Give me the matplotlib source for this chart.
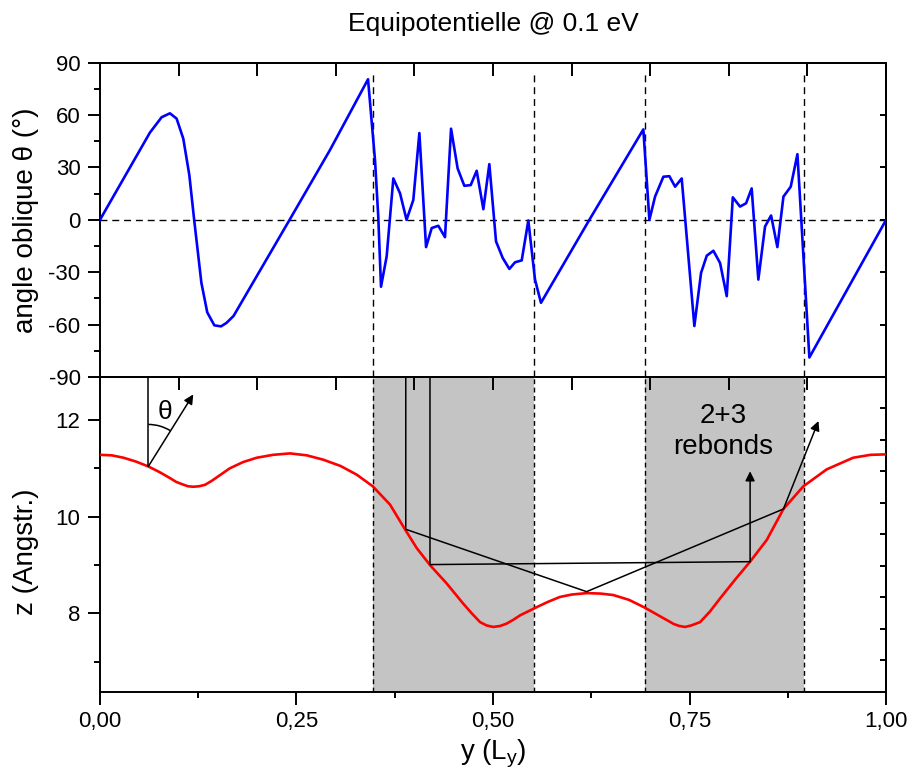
import matplotlib
matplotlib.use("Agg")
import matplotlib.pyplot as plt
from matplotlib.patches import Arc
from matplotlib.ticker import FuncFormatter, MultipleLocator
import numpy as np

plt.rcParams.update({
    'font.family': ['Liberation Sans', 'DejaVu Sans'],
    'mathtext.default': 'regular',
    'axes.unicode_minus': False,
    'font.size': 16,
})

# ---------------- data ----------------
# top panel: oblique angle theta (deg) vs y (L_y)
theta_y = [0.0, 0.0636, 0.0785, 0.089, 0.0975, 0.106, 0.1137, 0.1196, 0.129, 0.1365,
           0.1455, 0.154, 0.161, 0.17, 0.2417, 0.2926, 0.341, 0.3499, 0.354, 0.3575,
           0.3647, 0.3732, 0.3817, 0.390, 0.3986, 0.4063, 0.4148, 0.422, 0.4304, 0.4389,
           0.4466, 0.455, 0.4635, 0.4716, 0.4792, 0.4877, 0.4953, 0.5038, 0.5123, 0.5208,
           0.528, 0.5365, 0.5449, 0.5534, 0.561, 0.6225, 0.6912, 0.6989, 0.7061, 0.7167,
           0.7243, 0.7316, 0.74, 0.7561, 0.7646, 0.7719, 0.7803, 0.7888, 0.7973, 0.805,
           0.8142, 0.8219, 0.829, 0.8375, 0.846, 0.8537, 0.8617, 0.8694, 0.8787, 0.8872,
           0.9024, 1.0]
theta_deg = [0, 50, 58.8, 61, 58, 46.5, 25.6, 1, -36, -53,
             -60.4, -61, -59, -55, 0.4, 40, 80.5, 34, 2, -38.3,
             -20.9, 23.7, 15.2, 0, 11.4, 49.7, -15.6, -4.7, -3.4, -9.9,
             52.2, 29.4, 19.5, 19.9, 28.1, 6.1, 31.9, -12.3, -21.8, -28.1,
             -24.3, -23.2, -0.4, -34.2, -47.5, 0, 51.8, 0, 13.3, 24.7,
             25, 19, 23.7, -60.8, -30.4, -20.5, -17.7, -24.7, -43.7, 12.9,
             7.6, 9.5, 18, -34.2, -3.8, 2.5, -15.6, 13.3, 19, 37.6,
             -78.8, 0]

# bottom panel: equipotential surface z (Angstr.) vs y (L_y)
surf_y = [0.0, 0.015, 0.03, 0.046, 0.0615, 0.075, 0.089, 0.097, 0.105, 0.112,
          0.1187, 0.126, 0.1336, 0.142, 0.150, 0.165, 0.182, 0.1993, 0.22, 0.2417,
          0.263, 0.284, 0.306, 0.3266, 0.347, 0.369, 0.388, 0.403, 0.4198, 0.441,
          0.4622, 0.473, 0.4835, 0.492, 0.5004, 0.509, 0.5174, 0.526, 0.5344, 0.5556,
          0.570, 0.585, 0.600, 0.6192, 0.637, 0.653, 0.673, 0.693, 0.7125, 0.730,
          0.737, 0.7443, 0.752, 0.7634, 0.776, 0.7888, 0.808, 0.827, 0.8482, 0.8694,
          0.8948, 0.9245, 0.958, 0.98, 1.0]
surf_z = [11.28, 11.27, 11.22, 11.14, 11.04, 10.93, 10.80, 10.72, 10.67, 10.63,
          10.62, 10.63, 10.66, 10.74, 10.83, 11.00, 11.13, 11.22, 11.28, 11.31,
          11.27, 11.18, 11.05, 10.87, 10.63, 10.25, 9.74, 9.35, 9.00, 8.62,
          8.20, 8.00, 7.82, 7.75, 7.72, 7.74, 7.79, 7.87, 7.96, 8.13,
          8.24, 8.34, 8.39, 8.42, 8.41, 8.38, 8.28, 8.12, 7.94, 7.78,
          7.74, 7.72, 7.75, 7.82, 8.04, 8.31, 8.70, 9.07, 9.52, 10.16,
          10.63, 10.98, 11.22, 11.28, 11.29]

# rebound regions (y) and trajectories
region_edges = [(0.347, 0.552), (0.693, 0.896)]
traj_a_y = [0.389, 0.389, 0.619, 0.8694]
traj_a_z = [12.89, 9.74, 8.45, 10.16]
traj_a_end = (0.914, 11.98)
traj_b_y = [0.4198, 0.4198, 0.827]
traj_b_z = [12.89, 9.01, 9.07]
traj_b_end = (0.827, 10.94)
incid_pt = (0.0615, 11.04)
incid_end = (0.1187, 12.53)

z_lo, z_hi = 6.38, 12.89

fig = plt.figure(figsize=(9.12, 7.74), dpi=100)
ax1 = fig.add_axes([0.1096, 0.5129, 0.862, 0.4061])
ax2 = fig.add_axes([0.1096, 0.1063, 0.862, 0.4066])

comma = FuncFormatter(lambda v, p: f"{v:.2f}".replace('.', ','))

# ---------------- top panel ----------------
ax1.plot(theta_y, theta_deg, color='#0000ff', lw=1.9, zorder=3)
ax1.axhline(0, color='black', lw=1.0, ls=(0, (5, 3.5)), zorder=2)
for a, b in region_edges:
    ax1.vlines([a, b], -90, 84.5, color='black', lw=1.0, linestyles=[(0, (5, 3.5))], zorder=2)
ax1.set_xlim(0, 1)
ax1.set_ylim(-90, 90)
ax1.yaxis.set_major_locator(MultipleLocator(30))
ax1.yaxis.set_minor_locator(MultipleLocator(15))
ax1.tick_params(axis='y', which='major', direction='out', length=9, width=1.4, pad=5, labelsize=16)
ax1.tick_params(axis='y', which='minor', direction='out', length=4.5, width=1.4)
ax1.tick_params(axis='x', which='both', bottom=False, labelbottom=False)
ax1.set_ylabel("angle oblique θ (°)", fontsize=20)
ax1.yaxis.set_label_coords(-0.078, 0.5)
ax1.set_title("Equipotentielle @ 0.1 eV", fontsize=19, pad=23)

sx1 = ax1.secondary_xaxis('top')
sx1.set_xticks(np.arange(0.1, 0.95, 0.1))
sx1.tick_params(direction='in', length=9, width=1.4, labeltop=False)
sy1 = ax1.secondary_yaxis('right')
sy1.set_yticks([-60, -30, 0, 30, 60])
sy1.tick_params(direction='in', length=4.5, width=1.4, labelright=False)

# ---------------- bottom panel ----------------
for a, b in region_edges:
    ax2.axvspan(a, b, color='#c4c4c4', lw=0, zorder=0)
    ax2.axvline(a, color='black', lw=1.0, ls=(0, (3.5, 2.5)), zorder=1)
    ax2.axvline(b, color='black', lw=1.0, ls=(0, (3.5, 2.5)), zorder=1)

ax2.plot(surf_y, surf_z, color='#ff0000', lw=1.9, zorder=3, solid_joinstyle='round')

# trajectories
ax2.plot(traj_a_y, traj_a_z, color='black', lw=1.1, zorder=4)
ax2.plot(traj_b_y, traj_b_z, color='black', lw=1.1, zorder=4)
arrow = dict(arrowstyle='-|>', color='black', lw=1.1, mutation_scale=14, shrinkA=0, shrinkB=0)
ax2.annotate('', xy=traj_a_end, xytext=(traj_a_y[-1], traj_a_z[-1]), arrowprops=arrow, zorder=4)
ax2.annotate('', xy=traj_b_end, xytext=(traj_b_y[-1], traj_b_z[-1]), arrowprops=arrow, zorder=4)

# incidence angle sketch
ax2.plot([incid_pt[0], incid_pt[0]], [incid_pt[1], z_hi], color='black', lw=1.1, zorder=4)
ax2.annotate('', xy=incid_end, xytext=incid_pt, arrowprops=arrow, zorder=4)
r_px = 42
ax_w_px = 0.862 * 912
ax_h_px = 0.4066 * 774
arc_w = 2 * r_px / ax_w_px
arc_h = 2 * r_px / ax_h_px * (z_hi - z_lo)
t1 = np.degrees(np.arctan2(incid_end[1] - incid_pt[1], incid_end[0] - incid_pt[0]))
arc = Arc(incid_pt, arc_w, arc_h, theta1=t1, theta2=90, color='black', lw=1.1, zorder=4)
ax2.add_patch(arc)
ax2.text(0.0827, 12.17, "θ", fontsize=19, ha='center', va='center')
ax2.text(0.793, 11.77, "2+3\nrebonds", fontsize=20, ha='center', va='center', linespacing=1.25)

ax2.set_xlim(0, 1)
ax2.set_ylim(z_lo, z_hi)
ax2.set_yticks([8, 10, 12])
ax2.yaxis.set_minor_locator(MultipleLocator(1))
ax2.xaxis.set_major_locator(MultipleLocator(0.25))
ax2.xaxis.set_minor_locator(MultipleLocator(0.125))
ax2.xaxis.set_major_formatter(comma)
ax2.tick_params(which='major', direction='out', length=9, width=1.4, pad=5, labelsize=16)
ax2.tick_params(which='minor', direction='out', length=4.5, width=1.4)
ax2.set_ylabel("z (Angstr.)", fontsize=20)
ax2.yaxis.set_label_coords(-0.078, 0.444)
ax2.set_xlabel("y (L$_y$)", fontsize=20, labelpad=4)

sx2 = ax2.secondary_xaxis('top')
sx2.set_xticks(np.arange(0.1, 0.95, 0.1))
sx2.tick_params(direction='in', length=9, width=1.4, labeltop=False)
sy2 = ax2.secondary_yaxis('right', functions=(lambda z: (z - z_lo) / (z_hi - z_lo) * 10,
                                               lambda t: z_lo + t / 10 * (z_hi - z_lo)))
sy2.set_yticks(np.arange(1, 10))
sy2.tick_params(direction='in', length=4.5, width=1.4, labelright=False)

for ax in (ax1, ax2, sx1, sy1, sx2, sy2):
    for s in ax.spines.values():
        s.set_linewidth(1.4)

fig.savefig("out.png", dpi=100)
